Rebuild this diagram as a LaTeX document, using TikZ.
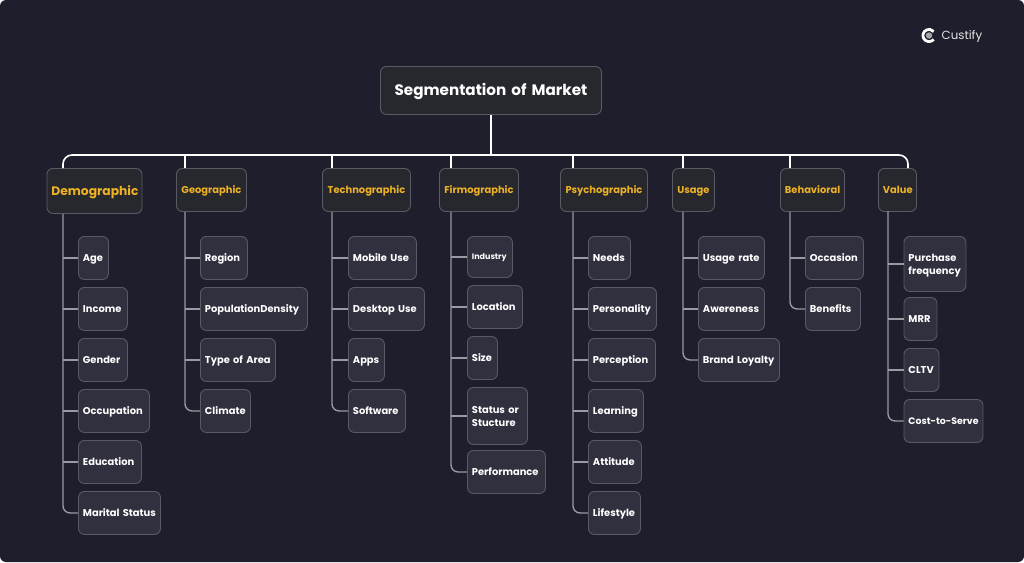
\documentclass[tikz,border=0pt]{standalone}
\usepackage{fontspec}
\setmainfont{Poppins}
\definecolor{pagebg}{HTML}{1E1E2C}
\definecolor{headfill}{HTML}{27272E}
\definecolor{leaffill}{HTML}{30303E}
\definecolor{boxline}{HTML}{5A5A66}
\definecolor{headtext}{HTML}{EDB225}
\definecolor{trunkline}{HTML}{9A9AA2}
\newcommand{\boxstrut}{\rule[-.28em]{0pt}{1.28em}}
\tikzset{
    box/.style={draw=boxline,line width=0.9pt,rounded corners=6pt,anchor=north west,inner xsep=4.5pt,inner ysep=0pt,execute at begin node=\boxstrut,execute at end node=\boxstrut},
    head/.style={box,fill=headfill,text=headtext,align=center,minimum height=43pt,font=\fontsize{9.9}{13}\selectfont\bfseries,text width=#1},
    leaf/.style={box,fill=leaffill,text=white,align=left,minimum height=43pt,font=\fontsize{9.9}{13}\selectfont\bfseries,text width=#1},
    bus/.style={draw=white,line width=1.6pt,rounded corners=9pt},
    trunk/.style={draw=trunkline,line width=1.4pt,rounded corners=7pt},
}
\begin{document}
\begin{tikzpicture}[x=1pt,y=-1pt]
\useasboundingbox (0,0) rectangle (1024,562);
\fill[white] (0,0) rectangle (1024,562);
\fill[pagebg,rounded corners=6pt] (0,0) rectangle (1024,562);
% logo
\fill[gray!70] (929,35.5) circle (3.2);
\draw[white,line width=2.8pt] (933.7,39.4) arc (40:320:6.1);
\node[text=white!90!black,font=\fontsize{11.8}{14}\selectfont,anchor=west,inner sep=0pt] (logo) at (941.5,37) {Custify};
% title
\node[box,fill=headfill,text=white,align=center,minimum height=48pt,text width=212pt,font=\fontsize{15.2}{18}\selectfont\bfseries] (root) at (380,66) {Segmentation of Market};
% heads
\node[head=86pt,minimum height=45pt,font=\fontsize{12.3}{16}\selectfont\bfseries] (demo) at (46.5,168) {Demographic};
\node[head=61pt] (geo) at (176,168) {Geographic};
\node[head=79pt] (tech) at (322,168) {Technographic};
\node[head=70pt] (firm) at (439,168) {Firmographic};
\node[head=78pt] (psych) at (560,168) {Psychographic};
\node[head=33pt] (usage) at (672,168) {Usage};
\node[head=55pt] (behav) at (780,168) {Behavioral};
\node[head=29pt] (value) at (878,168) {Value};
% Demographic
\node[leaf=21pt] (age) at (78,236) {Age};
\node[leaf=40pt] (income) at (78,287) {Income};
\node[leaf=40pt] (gender) at (78,338) {Gender};
\node[leaf=62pt] (occupation) at (78,389) {Occupation};
\node[leaf=54pt] (education) at (78,440) {Education};
\node[leaf=73pt] (marital) at (78,491) {Marital Status};
% Geographic
\node[leaf=38pt] (region) at (200,236) {Region};
\node[leaf=98pt] (density) at (200,287) {PopulationDensity};
\node[leaf=66pt] (area) at (200,338) {Type of Area};
\node[leaf=41pt] (climate) at (200,389) {Climate};
% Technographic
\node[leaf=59pt] (mobile) at (348,236) {Mobile Use};
\node[leaf=67pt] (desktop) at (348,287) {Desktop Use};
\node[leaf=27pt] (apps) at (348,338) {Apps};
\node[leaf=48pt] (software) at (348,389) {Software};
% Firmographic
\node[leaf=36pt,minimum height=41pt,font=\fontsize{8}{10}\selectfont\bfseries] (industry) at (467,236) {Industry};
\node[leaf=46pt] (location) at (467,285) {Location};
\node[leaf=21pt] (size) at (467,336) {Size};
\node[leaf=51pt,minimum height=57pt] (status) at (467,387) {Status or\\Stucture};
\node[leaf=69pt] (performance) at (467,450) {Performance};
% Psychographic
\node[leaf=33pt] (needs) at (588,236) {Needs};
\node[leaf=59pt] (personality) at (588,287) {Personality};
\node[leaf=58pt] (perception) at (588,338) {Perception};
\node[leaf=46pt] (learning) at (588,389) {Learning};
\node[leaf=44pt] (attitude) at (588,440) {Attitude};
\node[leaf=43pt] (lifestyle) at (588,491) {Lifestyle};
% Usage
\node[leaf=57pt] (rate) at (698,236) {Usage rate};
\node[leaf=57pt] (awereness) at (698,287) {Awereness};
\node[leaf=72pt] (loyalty) at (698,338) {Brand Loyalty};
% Behavioral
\node[leaf=49pt] (occasion) at (805,236) {Occasion};
\node[leaf=46pt] (benefits) at (805,287) {Benefits};
% Value
\node[leaf=53pt,minimum height=55pt] (purchase) at (903.5,236) {Purchase\\frequency};
\node[leaf=24pt] (mrr) at (903.5,297) {MRR};
\node[leaf=26pt] (cltv) at (903.5,348) {CLTV};
\node[leaf=70pt,font=\fontsize{9.4}{13}\selectfont\bfseries] (cost) at (903.5,399) {\mbox{Cost-to-Serve}};
% bus
\coordinate (demoTop) at (63,168);
\coordinate (geoTop) at (185,168);
\coordinate (techTop) at (332,168);
\coordinate (firmTop) at (451,168);
\coordinate (psychTop) at (573,168);
\coordinate (usageTop) at (683,168);
\coordinate (behavTop) at (790,168);
\coordinate (valueTop) at (908,168);
\coordinate (valueLeg) at (888,211);
\coordinate (busLine) at (491,155);
\draw[bus] (demoTop) -- (demoTop |- busLine) -- (valueTop |- busLine) -- (valueTop);
\draw[bus] (root.south -| busLine) -- (busLine);
\draw[bus] (geoTop) -- (geoTop |- busLine);
\draw[bus] (techTop) -- (techTop |- busLine);
\draw[bus] (firmTop) -- (firmTop |- busLine);
\draw[bus] (psychTop) -- (psychTop |- busLine);
\draw[bus] (usageTop) -- (usageTop |- busLine);
\draw[bus] (behavTop) -- (behavTop |- busLine);
% trunks
\draw[trunk] (demoTop |- demo.south) |- (marital.west);
\draw[trunk] (geoTop |- geo.south) |- (climate.west);
\draw[trunk] (techTop |- tech.south) |- (software.west);
\draw[trunk] (firmTop |- firm.south) |- (performance.west);
\draw[trunk] (psychTop |- psych.south) |- (lifestyle.west);
\draw[trunk] (usageTop |- usage.south) |- (loyalty.west);
\draw[trunk] (behavTop |- behav.south) |- (benefits.west);
\draw[trunk] (valueLeg) |- (cost.west);
% twigs
\draw[trunk] (demoTop |- age.west) -- (age.west);
\draw[trunk] (demoTop |- income.west) -- (income.west);
\draw[trunk] (demoTop |- gender.west) -- (gender.west);
\draw[trunk] (demoTop |- occupation.west) -- (occupation.west);
\draw[trunk] (demoTop |- education.west) -- (education.west);
\draw[trunk] (geoTop |- region.west) -- (region.west);
\draw[trunk] (geoTop |- density.west) -- (density.west);
\draw[trunk] (geoTop |- area.west) -- (area.west);
\draw[trunk] (techTop |- mobile.west) -- (mobile.west);
\draw[trunk] (techTop |- desktop.west) -- (desktop.west);
\draw[trunk] (techTop |- apps.west) -- (apps.west);
\draw[trunk] (firmTop |- industry.west) -- (industry.west);
\draw[trunk] (firmTop |- location.west) -- (location.west);
\draw[trunk] (firmTop |- size.west) -- (size.west);
\draw[trunk] (firmTop |- status.west) -- (status.west);
\draw[trunk] (psychTop |- needs.west) -- (needs.west);
\draw[trunk] (psychTop |- personality.west) -- (personality.west);
\draw[trunk] (psychTop |- perception.west) -- (perception.west);
\draw[trunk] (psychTop |- learning.west) -- (learning.west);
\draw[trunk] (psychTop |- attitude.west) -- (attitude.west);
\draw[trunk] (usageTop |- rate.west) -- (rate.west);
\draw[trunk] (usageTop |- awereness.west) -- (awereness.west);
\draw[trunk] (behavTop |- occasion.west) -- (occasion.west);
\draw[trunk] (valueLeg |- purchase.west) -- (purchase.west);
\draw[trunk] (valueLeg |- mrr.west) -- (mrr.west);
\draw[trunk] (valueLeg |- cltv.west) -- (cltv.west);
\end{tikzpicture}
\end{document}
